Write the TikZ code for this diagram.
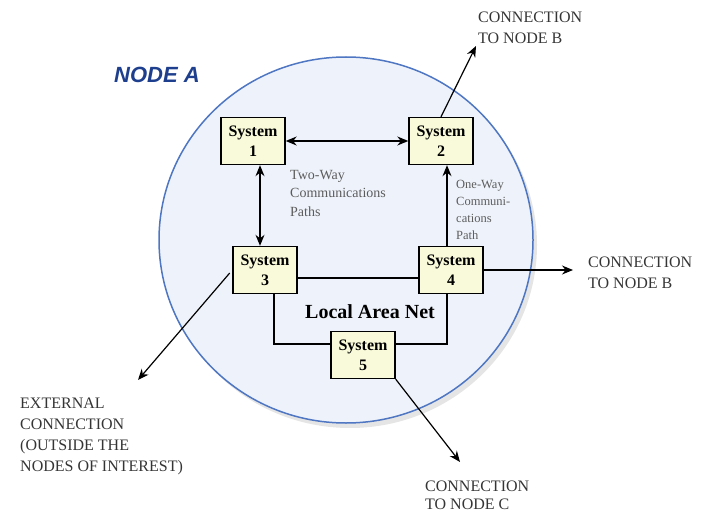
\documentclass[tikz,border=0pt]{standalone}
\usepackage{fontspec}
\setmainfont{Liberation Serif}
\newfontfamily\headsans{Liberation Sans}
\usetikzlibrary{positioning,arrows.meta}
\definecolor{NetBlue}{HTML}{4E76C2}
\definecolor{NetFill}{HTML}{EEF3FB}
\definecolor{SysFill}{HTML}{F9FAD9}
\definecolor{HeadBlue}{HTML}{1E3F8E}
\definecolor{LabelGray}{HTML}{353535}
\definecolor{NoteGray}{HTML}{5C5C5C}

\begin{document}
\begin{tikzpicture}[
  x=1pt, y=-1pt,
  sysbox/.style={draw=black, line width=1.4pt, fill=SysFill, minimum width=64pt, minimum height=47pt, inner sep=2pt, align=center, font=\fontsize{16}{20}\selectfont\bfseries},
  outlabel/.style={anchor=north west, inner sep=0pt, align=left, text=LabelGray, font=\fontsize{16}{21}\selectfont},
  note/.style={anchor=north west, inner sep=0pt, align=left, text=NoteGray, font=\fontsize{14}{18.5}\selectfont},
  link/.style={line width=1.2pt},
  arrow/.style={-{Stealth[length=11pt,width=9pt]}, line width=1.2pt},
  twoway/.style={{Stealth[length=11pt,width=9pt]}-{Stealth[length=11pt,width=9pt]}, line width=1.2pt}
]
  \useasboundingbox (0,0) rectangle (708,513);

  % the node area, with a faint shadow
  \fill[black!10] (350,245) ellipse [x radius=187, y radius=183];
  \draw[NetBlue, line width=1.5pt, fill=NetFill] (346,240) ellipse [x radius=187, y radius=183];
  \node[font=\headsans\fontsize{22}{26}\selectfont\bfseries\itshape, text=HeadBlue] (nodeA) at (157,75) {NODE A};

  \node[sysbox] (sys1) at (253,141) {System\\1};
  \node[sysbox] (sys2) at (441,141) {System\\2};
  \node[sysbox] (sys3) at (265,270) {System\\3};
  \node[sysbox] (sys4) at (451,270) {System\\4};
  \node[sysbox] (sys5) at (363,355) {System\\5};

  \node[font=\fontsize{20}{24}\selectfont\bfseries] (lan) at (370,312) {Local Area Net};
  \node[note] (twowaytxt) at (290,170) {Two-Way\\Communications\\Paths};
  \node[note, font=\fontsize{12.5}{17}\selectfont] (onewaytxt) at (456,180) {One-Way\\Communi-\\cations\\Path};

  \node[outlabel] (lblB1) at (478,12) {CONNECTION\\TO NODE B};
  \node[outlabel] (lblB2) at (588,257) {CONNECTION\\TO NODE B};
  \node[outlabel] (lblExt) at (20,398) {EXTERNAL\\CONNECTION\\(OUTSIDE THE\\NODES OF INTEREST)};
  \node[outlabel, font=\fontsize{16}{18}\selectfont] (lblC) at (425,481) {CONNECTION\\TO NODE C};

  % free ends of the outgoing connections
  \coordinate (toB1) at (476,46);
  \coordinate (toB2) at (573,270);
  \coordinate (toExt) at (138,380);
  \coordinate (toC) at (460,462);

  \draw[twoway] (sys1) -- (sys2);
  \draw[twoway] (sys1.south -| 260,0) -- (sys3.north -| 260,0);
  \draw[arrow] (sys4.north -| 447,0) -- (sys2.south -| 447,0);

  \draw[link] ([yshift=-8pt]sys3.east) -- ([yshift=-8pt]sys4.west);
  \draw[link] (sys3.south -| 274,0) |- ([yshift=11pt]sys5.west);
  \draw[link] (sys4.south -| 447,0) |- ([yshift=11pt]sys5.east);

  \draw[arrow] (sys2.north) -- (toB1);
  \draw[arrow] (sys4.east) -- (toB2);
  \draw[arrow, shorten <=4pt] (sys3.west) -- (toExt);
  \draw[arrow] (sys5.south east) -- (toC);
\end{tikzpicture}
\end{document}
